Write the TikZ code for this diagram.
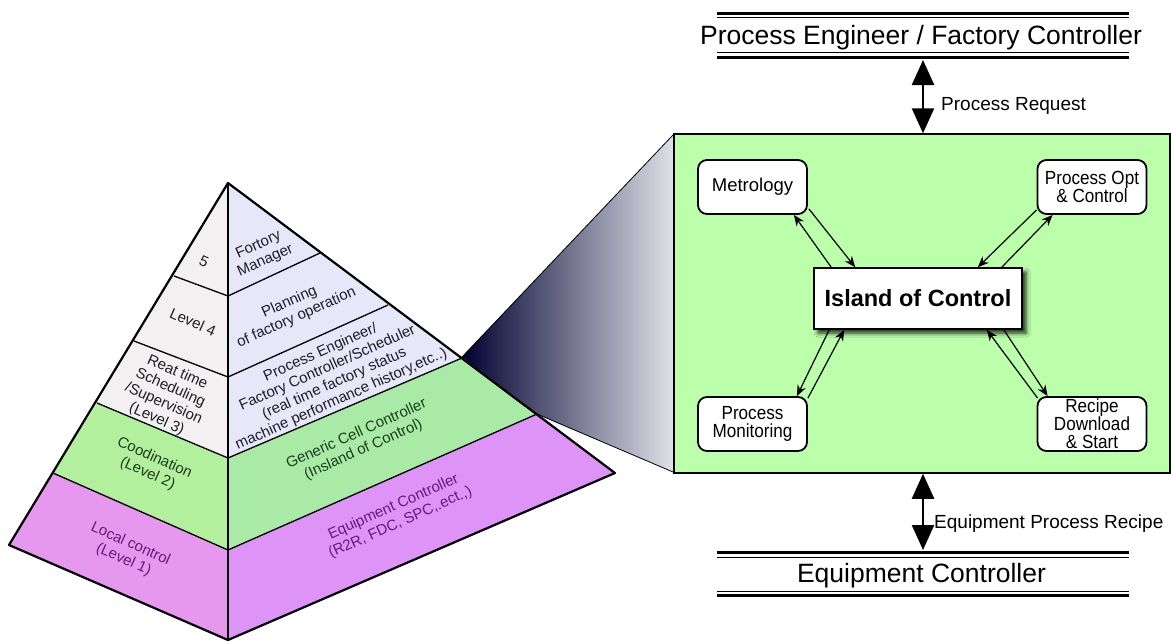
\documentclass[tikz,border=0pt]{standalone}
\usepackage{fontspec}
\setmainfont{Liberation Sans}
\newfontfamily\narrowsans[FakeStretch=0.9]{Liberation Sans}
\usetikzlibrary{
  arrows.meta,
  calc,
  shadows.blur
}
\definecolor{FaceGray}{RGB}{242,240,240}
\definecolor{FaceLavender}{RGB}{230,232,250}
\definecolor{CoordGreen}{RGB}{179,240,158}
\definecolor{CellGreen}{RGB}{168,234,166}
\definecolor{LocalPurple}{RGB}{229,152,238}
\definecolor{EquipPurple}{RGB}{221,148,246}
\definecolor{IslandGreen}{RGB}{187,255,170}
\definecolor{ZoomNavy}{RGB}{0,0,48}
\definecolor{ZoomGray}{RGB}{224,224,232}
\definecolor{GreenInk}{RGB}{28,62,28}
\definecolor{PurpleInk}{RGB}{105,25,115}
\definecolor{TextInk}{RGB}{30,30,36}
\tikzset{
  lvltext/.style={
    font=\fontsize{15}{17}\selectfont,
    align=center,
    inner sep=0pt,
    text=TextInk
  },
  lefttext/.style={lvltext,rotate=-24},
  righttext/.style={lvltext,rotate=24},
  unitbox/.style={
    draw,
    line width=1.8pt,
    fill=white,
    rounded corners=9pt,
    minimum width=109pt,
    minimum height=54pt,
    align=center,
    inner sep=1pt,
    font=\narrowsans\fontsize{19}{18}\selectfont
  },
  corebox/.style={
    draw,
    line width=1.6pt,
    fill=white,
    minimum width=208pt,
    minimum height=61pt,
    font=\bfseries\fontsize{23.5}{26}\selectfont,
    blur shadow={shadow xshift=4pt,shadow yshift=-4pt,shadow blur radius=4pt,shadow opacity=85}
  },
  headtext/.style={font=\fontsize{26.5}{30}\selectfont,inner sep=0pt,anchor=base},
  flowlabel/.style={font=\fontsize{19}{22}\selectfont,inner sep=0pt,anchor=base west},
  bigarrow/.style={{Triangle[length=25pt,width=22pt]}-{Triangle[length=25pt,width=22pt]},line width=2.4pt},
  linkarrow/.style={-{Stealth[length=11pt,width=9pt]},line width=1.2pt},
  outline/.style={line width=2.2pt,line join=round},
  bandline/.style={line width=1.3pt}
}

\begin{document}
\begin{tikzpicture}[x=1pt,y=-1pt]
  \useasboundingbox (0,0) rectangle (1171,641);

  % zoom wedge from the pyramid to the cell
  \shade[left color=ZoomNavy,right color=ZoomGray] (462,357) -- (673,135) -- (673,472) -- (537,414) -- cycle;
  \draw[line width=0.8pt] (462,357) -- (673,135);
  \draw[line width=0.8pt] (537,414) -- (673,472);

  % pyramid, left face
  \fill[FaceGray] (228,183) -- (97,403) -- (228,458) -- cycle;
  \fill[CoordGreen] (97,403) -- (53,473) -- (228,550) -- (228,458) -- cycle;
  \fill[LocalPurple] (53,473) -- (9,545) -- (228,640) -- (228,550) -- cycle;
  % pyramid, right face
  \fill[FaceLavender] (228,183) -- (228,458) -- (462,358) -- cycle;
  \fill[CellGreen] (228,458) -- (228,550) -- (537,414) -- (462,358) -- cycle;
  \fill[EquipPurple] (228,550) -- (228,640) -- (615,473) -- (537,414) -- cycle;

  \draw[bandline] (174,276) -- (228,296) -- (320,253);
  \draw[bandline] (134,341) -- (228,377) -- (388,305);
  \draw[bandline] (97,403) -- (228,458) -- (462,358);
  \draw[bandline] (53,473) -- (228,550) -- (537,414);
  \draw[line width=1.6pt] (228,183) -- (228,640);
  \draw[outline] (228,183) -- (9,545) -- (228,640) -- (615,473) -- cycle;

  \node[lefttext] (lvl5) at (204,262) {5};
  \node[lefttext] (lvl4) at (193,322) {Level 4};
  \node[lefttext] (lvl3) at (167,396) {Reat time\\Scheduling\\/Supervision\\(Level 3)};
  \node[lefttext,text=GreenInk] (lvl2) at (151,466) {Coodination\\(Level 2)};
  \node[lefttext,text=PurpleInk] (lvl1) at (127,552) {Local control\\(Level 1)};

  \node[righttext] (mgr) at (262,253) {Fortory\\Manager};
  \node[righttext] (plan) at (293,310) {Planning\\of factory operation};
  \node[righttext] (sched) at (331,376) {Process Engineer/\\Factory Controller/Scheduler\\(real time factory status\\machine performance history,etc..)};
  \node[righttext,text=GreenInk] (gcc) at (360,442) {Generic Cell Controller\\(Insland of Control)};
  \node[righttext,text=PurpleInk] (eqc) at (397,515) {Equipment Controller\\(R2R, FDC, SPC,.ect.,)};

  % island of control cell
  \node[draw,line width=1.5pt,fill=IslandGreen,minimum width=496pt,minimum height=339pt,inner sep=0pt] (cell) at (922,303.5) {};
  \node[corebox] (isl) at (918,298.5) {Island of Control};
  \node[unitbox,font=\fontsize{18.5}{20}\selectfont] (met) at (752.5,187) {Metrology};
  \node[unitbox] (opt) at (1092,187) {Process Opt\\\& Control};
  \node[unitbox] (mon) at (752.5,424) {Process\\Monitoring};
  \node[unitbox] (rec) at (1092,424) {Recipe\\Download\\\& Start};

  \draw[linkarrow] ($(met.south east)+(1,-6)$) -- ($(isl.north west)+(42,0)$);
  \draw[linkarrow] ($(isl.north west)+(18,0)$) -- ($(met.south east)+(-14,0)$);
  \draw[linkarrow] ($(opt.south west)+(0,-5)$) -- ($(isl.north east)+(-45,0)$);
  \draw[linkarrow] ($(isl.north east)+(-21,0)$) -- ($(opt.south west)+(16,0)$);
  \draw[linkarrow] ($(isl.south west)+(16,0)$) -- ($(mon.north east)+(-11,0)$);
  \draw[linkarrow] ($(mon.north east)+(0,2)$) -- ($(isl.south west)+(31,0)$);
  \draw[linkarrow] ($(rec.north west)+(1,2)$) -- ($(isl.south east)+(-36,0)$);
  \draw[linkarrow] ($(isl.south east)+(-19,0)$) -- ($(rec.north west)+(11,0)$);

  % upper and lower partners
  \draw[line width=3pt] (717,13.5) -- (1129,13.5);
  \draw[line width=1pt] (717,17) -- (1129,17);
  \node[headtext] (pefc) at (921,44.5) {Process Engineer / Factory Controller};
  \draw[line width=1pt] (717,52) -- (1129,52);
  \draw[line width=3pt] (717,57) -- (1129,57);

  \draw[line width=3pt] (717,552.5) -- (1129,552.5);
  \draw[line width=1pt] (717,557) -- (1129,557);
  \node[headtext] (eqctl) at (921.5,582.5) {Equipment Controller};
  \draw[line width=1pt] (717,591) -- (1129,591);
  \draw[line width=3pt] (717,595.5) -- (1129,595.5);

  \coordinate (reqtop) at (923,60);
  \coordinate (recbot) at (923,550);
  \draw[bigarrow] (reqtop) -- (reqtop |- cell.north);
  \draw[bigarrow] (recbot |- cell.south) -- (recbot);
  \node[flowlabel] (preq) at (941,110) {Process Request};
  \node[flowlabel] (eprec) at (934,528.5) {Equipment Process Recipe};
\end{tikzpicture}
\end{document}
